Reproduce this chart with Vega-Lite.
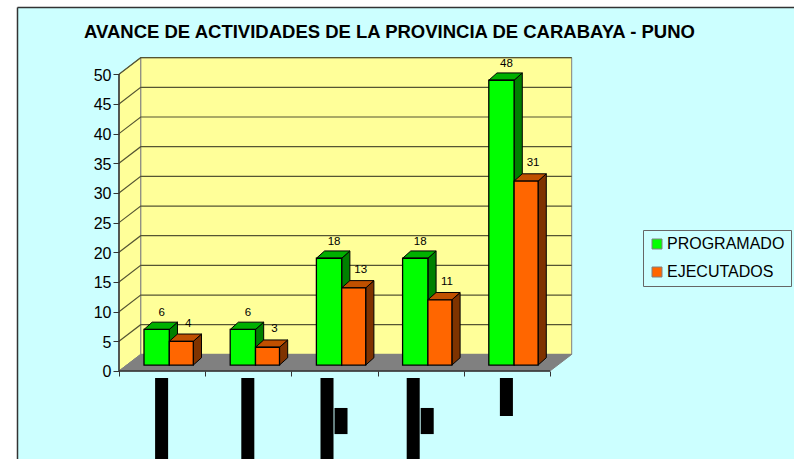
{
"$schema":"https://vega.github.io/schema/vega-lite/v6.json",
"width":794,"height":459,"padding":0,"autosize":{"type":"none"},"background":"white",
"config":{"view":{"stroke":null},"font":"Liberation Sans"},
"title":{"text":"AVANCE DE ACTIVIDADES DE LA PROVINCIA DE CARABAYA - PUNO","anchor":"start","frame":"group","dx":84,"dy":45,"fontSize":18.5,"fontWeight":"bold","font":"Liberation Sans","color":"black"},
"datasets":{
"barras":[
{"cat":1,"serie":"PROGRAMADO","valor":6},{"cat":2,"serie":"PROGRAMADO","valor":6},{"cat":3,"serie":"PROGRAMADO","valor":18},{"cat":4,"serie":"PROGRAMADO","valor":18},{"cat":5,"serie":"PROGRAMADO","valor":48},
{"cat":1,"serie":"EJECUTADOS","valor":4},{"cat":2,"serie":"EJECUTADOS","valor":3},{"cat":3,"serie":"EJECUTADOS","valor":13},{"cat":4,"serie":"EJECUTADOS","valor":11},{"cat":5,"serie":"EJECUTADOS","valor":31}],
"marcas":[{"valor":5},{"valor":10},{"valor":15},{"valor":20},{"valor":25},{"valor":30},{"valor":35},{"valor":40},{"valor":45},{"valor":50}],
"etiquetas":[
{"cat":1,"lineas":1,"linea":0,"sangria":0,"largo":13.7},
{"cat":2,"lineas":1,"linea":0,"sangria":0,"largo":13.7},
{"cat":3,"lineas":2,"linea":0,"sangria":0,"largo":13.7},
{"cat":3,"lineas":2,"linea":1,"sangria":5.05,"largo":4.4},
{"cat":4,"lineas":2,"linea":0,"sangria":0,"largo":13.7},
{"cat":4,"lineas":2,"linea":1,"sangria":5.05,"largo":4.4},
{"cat":5,"lineas":1,"linea":0,"sangria":0,"largo":6.4}]
},
"encoding":{
"x":{"field":"u","type":"quantitative","scale":{"domain":[-1.3805,7.8306],"nice":false,"zero":false},
  "axis":{"title":null,"orient":"bottom","offset":-88,"values":[0,1,2,3,4,5],"labels":false,"domain":false,"grid":false,"tickSize":5,"tickColor":"#333333","zindex":1}},
"y":{"field":"v","type":"quantitative","scale":{"domain":[-14.83,62.52],"nice":false,"zero":false},
  "axis":{"title":null,"orient":"left","offset":-119,"values":[0,5,10,15,20,25,30,35,40,45,50],"domain":false,"grid":false,"tickSize":6,"tickColor":"#333333","labelPadding":2,"labelOffset":1,"labelFont":"Liberation Sans","labelFontSize":16,"labelColor":"black","zindex":1}}
},
"layer":[
{"data":{"values":[{"caja":"fondo"}]},
 "transform":[{"calculate":"-1.1775","as":"u"},{"calculate":"7.8306","as":"u2"},{"calculate":"61.26","as":"v"},{"calculate":"-14.83","as":"v2"}],
 "mark":{"type":"rect","fill":"#CCFFFF"},
 "encoding":{"x2":{"field":"u2"},"y2":{"field":"v2"}}},
{"data":{"values":[{"borde":"arriba"},{"borde":"izquierda"}]},
 "transform":[{"calculate":"-1.1775","as":"u"},{"calculate":"datum.borde=='arriba'?7.8306:-1.1775","as":"u2"},{"calculate":"61.26","as":"v"},{"calculate":"datum.borde=='arriba'?61.26:-14.83","as":"v2"}],
 "mark":{"type":"rule","stroke":"#333333","strokeWidth":1.5},
 "encoding":{"x2":{"field":"u2"},"y2":{"field":"v2"}}},
{"data":{"values":[{"cara":"pared"},{"cara":"lateral"},{"cara":"piso"}]},
 "transform":[
 {"calculate":"datum.cara=='pared'?[[0.2517,2.8,0],[5.2517,2.8,1],[5.2517,52.8,2],[0.2517,52.8,3]]:datum.cara=='lateral'?[[0,0,0],[0.2517,2.8,1],[0.2517,52.8,2],[0,50,3]]:[[0,0,0],[5,0,1],[5.2517,2.8,2],[0.2517,2.8,3]]","as":"p"},
 {"flatten":["p"]},
 {"calculate":"datum.p[0]","as":"u"},{"calculate":"datum.p[1]","as":"v"},{"calculate":"datum.p[2]","as":"i"},
 {"calculate":"datum.cara=='piso'?'#808080':'#FFFF99'","as":"tono"}],
 "mark":{"type":"line","interpolate":"linear-closed","stroke":"#808080","strokeWidth":1},
 "encoding":{"detail":{"field":"cara"},"order":{"field":"i","type":"quantitative"},"fill":{"field":"tono","type":"nominal","scale":null}}},
{"data":{"name":"marcas"},
 "transform":[
 {"calculate":"[[0,datum.valor,0],[0.2517,datum.valor+2.8,1],[5.2517,datum.valor+2.8,2]]","as":"p"},
 {"flatten":["p"]},
 {"calculate":"datum.p[0]","as":"u"},{"calculate":"datum.p[1]","as":"v"},{"calculate":"datum.p[2]","as":"i"}],
 "mark":{"type":"line","stroke":"#555533","strokeWidth":1.2},
 "encoding":{"detail":{"field":"valor"},"order":{"field":"i","type":"quantitative"}}},
{"data":{"name":"barras"},
 "transform":[
 {"calculate":"datum.cat-1+(datum.serie=='PROGRAMADO'?0.29:0.5835)","as":"a"},
 {"calculate":"datum.a+(datum.serie=='PROGRAMADO'?0.2935:0.2785)","as":"b"},
 {"calculate":"1.0+datum.valor","as":"t"},
 {"calculate":"[['lado',datum.b,datum.t,0],['lado',datum.b+0.095,datum.t+1.23,1],['lado',datum.b+0.095,2.23,2],['lado',datum.b,1.0,3],['tapa',datum.a,datum.t,0],['tapa',datum.b,datum.t,1],['tapa',datum.b+0.095,datum.t+1.23,2],['tapa',datum.a+0.095,datum.t+1.23,3]]","as":"p"},
 {"flatten":["p"]},
 {"calculate":"datum.p[0]","as":"cara"},{"calculate":"datum.p[1]","as":"u"},{"calculate":"datum.p[2]","as":"v"},{"calculate":"datum.p[3]","as":"i"},
 {"calculate":"datum.serie+datum.cat+datum.cara","as":"id"},
 {"calculate":"datum.serie=='PROGRAMADO'?(datum.cara=='lado'?'#008000':'#00B000'):(datum.cara=='lado'?'#7F3300':'#C05000')","as":"tono"}],
 "mark":{"type":"line","interpolate":"linear-closed","stroke":"black","strokeWidth":1},
 "encoding":{"detail":{"field":"id"},"order":{"field":"i","type":"quantitative"},"fill":{"field":"tono","type":"nominal","scale":null}}},
{"data":{"name":"barras"},
 "transform":[
 {"calculate":"datum.cat-1+(datum.serie=='PROGRAMADO'?0.29:0.5835)","as":"u"},
 {"calculate":"datum.u+(datum.serie=='PROGRAMADO'?0.2935:0.2785)","as":"u2"},
 {"calculate":"1.0+datum.valor","as":"v"},{"calculate":"1.0","as":"v2"}],
 "mark":{"type":"rect","stroke":"black","strokeWidth":1.3},
 "encoding":{"x2":{"field":"u2"},"y2":{"field":"v2"},
 "fill":{"field":"serie","type":"nominal","scale":{"domain":["PROGRAMADO","EJECUTADOS"],"range":["#00FF00","#FF6600"]},
 "legend":{"orient":"none","legendX":643,"legendY":230,"title":null,"symbolType":"square","symbolSize":100,"symbolStrokeColor":"black","symbolStrokeWidth":1,"labelFont":"Liberation Sans","labelFontSize":16,"labelColor":"black","labelOffset":2,"strokeColor":"#666666","padding":6,"rowPadding":12}}}},
{"data":{"name":"barras"},
 "transform":[
 {"calculate":"datum.cat-1+(datum.serie=='PROGRAMADO'?0.4368+0.058:0.7228+0.081)","as":"u"},
 {"calculate":"1.0+datum.valor+(datum.serie=='PROGRAMADO'?2.7:3.0)","as":"v"}],
 "mark":{"type":"text","font":"Liberation Sans","fontSize":11.5,"color":"black","align":"center","baseline":"middle"},
 "encoding":{"text":{"field":"valor","type":"quantitative"}}},
{"data":{"name":"etiquetas"},
 "transform":[
 {"calculate":"datum.cat-0.5-datum.lineas*0.0812+datum.linea*0.1624","as":"u"},
 {"calculate":"datum.u+0.151","as":"u2"},
 {"calculate":"-1.18-datum.sangria","as":"v"},
 {"calculate":"datum.v-datum.largo","as":"v2"}],
 "mark":{"type":"rect","fill":"black"},
 "encoding":{"x2":{"field":"u2"},"y2":{"field":"v2"}}},
{"data":{"values":[{"eje":"y"},{"eje":"x"}]},
 "transform":[{"calculate":"0","as":"u"},{"calculate":"0","as":"v"},{"calculate":"datum.eje=='x'?5:0","as":"u2"},{"calculate":"datum.eje=='y'?50:0","as":"v2"}],
 "mark":{"type":"rule","stroke":"#333333","strokeWidth":1.5},
 "encoding":{"x2":{"field":"u2"},"y2":{"field":"v2"}}}
]
}
